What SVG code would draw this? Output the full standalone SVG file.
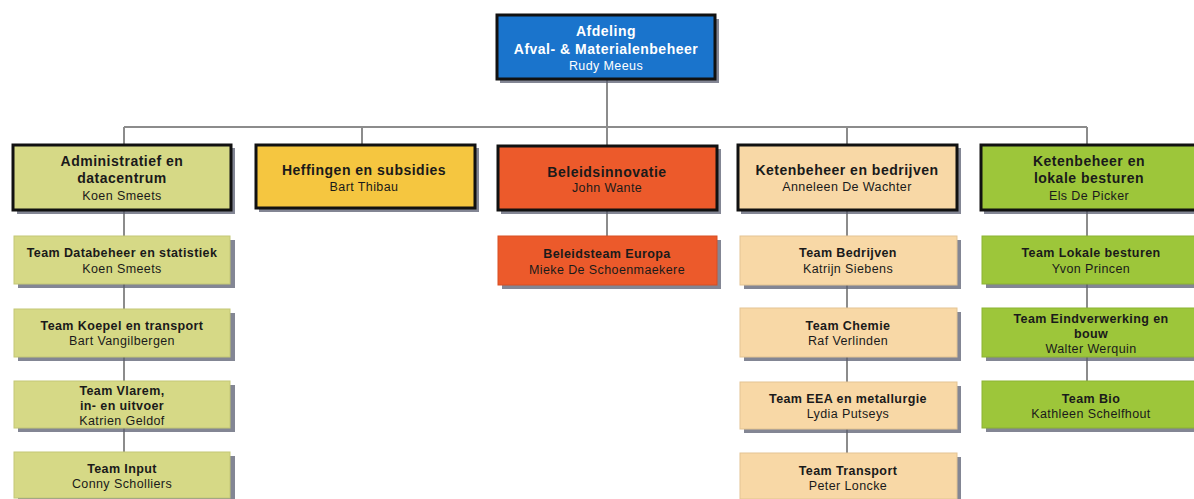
<svg xmlns="http://www.w3.org/2000/svg" width="1194" height="499" viewBox="0 0 1194 499">
<style>
.hd{stroke:#111;stroke-width:3}
.sh{fill:#5a5d70;opacity:0.75}
.t{font-family:"Liberation Sans",Arial,sans-serif;text-anchor:middle;fill:#1a1a1a}
.b{font-weight:bold;font-size:14px;letter-spacing:0.5px}
.n{font-size:12.5px;letter-spacing:0.4px}
.tb{font-weight:bold;font-size:12.5px;letter-spacing:0.4px}
.w{fill:#ffffff}
.c1{fill:#d6d986}
.c2{fill:#f5c640}
.c3{fill:#ec5a2b}
.c4{fill:#f8d8a6}
.c5{fill:#9dc63a}
.conn{stroke:#8c8c8c;stroke-width:2;fill:none}
</style>
<rect width="1194" height="499" fill="#ffffff"/>
<g id="connectors">
<path class="conn" d="M607 79V127M124 127H1087M124 127V145M362 127V145M607 127V146M847 127V145M1087 127V145"/>
<path class="conn" d="M124 210V452M607 210V236M847 210V453M1087 210V381"/>
</g>
<g id="top">
<rect class="sh" x="500" y="19" width="219" height="64"/>
<rect class="hd" x="497" y="15" width="218" height="64" fill="#1a74cc"/>
<text class="t b w" x="606" y="36">Afdeling</text>
<text class="t b w" x="606" y="54">Afval- &amp; Materialenbeheer</text>
<text class="t n w" x="606" y="70">Rudy Meeus</text>
</g>
<g id="h1">
<rect class="sh" x="17" y="148" width="218" height="66"/>
<rect class="hd c1" x="13" y="145" width="218" height="65"/>
<text class="t b" x="122" y="166">Administratief en</text>
<text class="t b" x="122" y="183">datacentrum</text>
<text class="t n" x="122" y="200">Koen Smeets</text>
</g>
<g id="h2">
<rect class="sh" x="259" y="148" width="220" height="64"/>
<rect class="hd c2" x="256" y="145" width="219" height="63"/>
<text class="t b" x="364" y="175">Heffingen en subsidies</text>
<text class="t n" x="364" y="191">Bart Thibau</text>
</g>
<g id="h3">
<rect class="sh" x="501" y="149" width="220" height="65"/>
<rect class="hd c3" x="498" y="146" width="219" height="64"/>
<text class="t b" x="607" y="177">Beleidsinnovatie</text>
<text class="t n" x="607" y="192">John Wante</text>
</g>
<g id="h4">
<rect class="sh" x="741" y="148" width="220" height="66"/>
<rect class="hd c4" x="738" y="145" width="219" height="65"/>
<text class="t b" x="847" y="175">Ketenbeheer en bedrijven</text>
<text class="t n" x="847" y="191">Anneleen De Wachter</text>
</g>
<g id="h5">
<rect class="sh" x="984" y="148" width="220" height="66"/>
<rect class="hd c5" x="981" y="145" width="220" height="65"/>
<text class="t b" x="1089" y="166">Ketenbeheer en</text>
<text class="t b" x="1089" y="183">lokale besturen</text>
<text class="t n" x="1089" y="200">Els De Picker</text>
</g>
<g id="t1a">
<rect class="sh" x="18" y="240" width="217" height="48"/>
<rect class="c1" x="14" y="236" width="216" height="48" stroke="#c4c777"/>
<text class="t tb" x="122" y="257">Team Databeheer en statistiek</text>
<text class="t n" x="122" y="273">Koen Smeets</text>
</g>
<g id="t1b">
<rect class="sh" x="18" y="313" width="217" height="48"/>
<rect class="c1" x="14" y="309" width="216" height="48" stroke="#c4c777"/>
<text class="t tb" x="122" y="330">Team Koepel en transport</text>
<text class="t n" x="122" y="345">Bart Vangilbergen</text>
</g>
<g id="t1c">
<rect class="sh" x="18" y="385" width="217" height="47"/>
<rect class="c1" x="14" y="381" width="216" height="47" stroke="#c4c777"/>
<text class="t tb" x="122" y="395">Team Vlarem,</text>
<text class="t tb" x="122" y="410">in- en uitvoer</text>
<text class="t n" x="122" y="425">Katrien Geldof</text>
</g>
<g id="t1d">
<rect class="sh" x="18" y="456" width="217" height="46"/>
<rect class="c1" x="14" y="452" width="216" height="46" stroke="#c4c777"/>
<text class="t tb" x="122" y="473">Team Input</text>
<text class="t n" x="122" y="488">Conny Scholliers</text>
</g>
<g id="t3a">
<rect class="sh" x="502" y="240" width="219" height="49"/>
<rect class="c3" x="498" y="236" width="219" height="49" stroke="#d84e22"/>
<text class="t tb" x="607" y="258">Beleidsteam Europa</text>
<text class="t n" x="607" y="274">Mieke De Schoenmaekere</text>
</g>
<g id="t4a">
<rect class="sh" x="744" y="240" width="217" height="49"/>
<rect class="c4" x="740" y="236" width="217" height="49" stroke="#e3c493"/>
<text class="t tb" x="848" y="257">Team Bedrijven</text>
<text class="t n" x="848" y="273">Katrijn Siebens</text>
</g>
<g id="t4b">
<rect class="sh" x="744" y="312" width="217" height="49"/>
<rect class="c4" x="740" y="308" width="217" height="49" stroke="#e3c493"/>
<text class="t tb" x="848" y="330">Team Chemie</text>
<text class="t n" x="848" y="345">Raf Verlinden</text>
</g>
<g id="t4c">
<rect class="sh" x="744" y="386" width="217" height="47"/>
<rect class="c4" x="740" y="382" width="217" height="47" stroke="#e3c493"/>
<text class="t tb" x="848" y="403">Team EEA en metallurgie</text>
<text class="t n" x="848" y="418">Lydia Putseys</text>
</g>
<g id="t4d">
<rect class="sh" x="744" y="457" width="217" height="46"/>
<rect class="c4" x="740" y="453" width="217" height="46" stroke="#e3c493"/>
<text class="t tb" x="848" y="475">Team Transport</text>
<text class="t n" x="848" y="490">Peter Loncke</text>
</g>
<g id="t5a">
<rect class="sh" x="986" y="240" width="215" height="48"/>
<rect class="c5" x="982" y="236" width="215" height="48" stroke="#8cb333"/>
<text class="t tb" x="1091" y="257">Team Lokale besturen</text>
<text class="t n" x="1091" y="273">Yvon Princen</text>
</g>
<g id="t5b">
<rect class="sh" x="986" y="312" width="215" height="49"/>
<rect class="c5" x="982" y="308" width="215" height="49" stroke="#8cb333"/>
<text class="t tb" x="1091" y="323">Team Eindverwerking en</text>
<text class="t tb" x="1091" y="338">bouw</text>
<text class="t n" x="1091" y="353">Walter Werquin</text>
</g>
<g id="t5c">
<rect class="sh" x="986" y="385" width="215" height="47"/>
<rect class="c5" x="982" y="381" width="215" height="47" stroke="#8cb333"/>
<text class="t tb" x="1091" y="403">Team Bio</text>
<text class="t n" x="1091" y="418">Kathleen Schelfhout</text>
</g>
</svg>
